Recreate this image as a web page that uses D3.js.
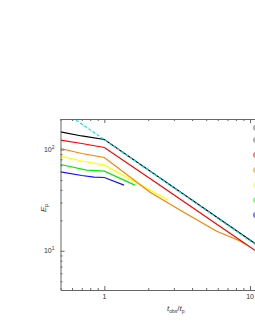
<!DOCTYPE html>
<html>
<head>
<meta charset="utf-8">
<script src="https://cdn.jsdelivr.net/npm/d3@7"></script>
<style>
body{margin:0;background:#fff;}
text{font-family:"Liberation Sans",Arial,sans-serif;fill:#333;}
</style>
</head>
<body>
<div id="chart"></div>
<script>
// values: t_obs/t_p and E_p
var blackT=[0.5,0.7,1,20],           blackE=[149,136,125.5,6.4];
var redT=[0.5,0.7,1,2.35,10,20],     redE=[123.5,114.6,104.6,45.3,10.9,5.5];
var orangeT=[0.5,0.7,1,2.06,3.48,5.91,8.54,9.3], orangeE=[102.3,91.3,83.4,37.9,24.2,15.6,12.5,11.6];
var yellowT=[0.5,0.7,1,2.06,2.75],   yellowE=[85.9,77,70,39.7,31.6];
var greenT=[0.5,0.757,1,1.62],       greenE=[71.1,62.5,61.1,44.5];
var blueT=[0.5,0.7,0.85,1,1.365],    blueE=[60.1,55.4,53.3,52.9,44.5];
var cyanT=[0.6,20],                  cyanE=[208,6.3];
var legendColors=["#666","#666","#ff0000","#ff8000","#ffff00","#00ff00","#0000ff"];
var xMajor=[1,10], yMajor=[10,100];

var series=[
  {t:blackT,e:blackE,c:"#000"},
  {t:redT,e:redE,c:"#ff0000"},
  {t:orangeT,e:orangeE,c:"#ff8000"},
  {t:yellowT,e:yellowE,c:"#ffff00"},
  {t:greenT,e:greenE,c:"#00ee00"},
  {t:blueT,e:blueE,c:"#1010ff"}
];

var W=255,H=330;
var x=d3.scaleLog().domain([0.5,20]).range([60.5,293.9]);
var y=d3.scaleLog().domain([4.1,200]).range([290,119]);

var svg=d3.select("#chart").append("svg").attr("width",W).attr("height",H);

svg.append("clipPath").attr("id","clip").append("rect")
  .attr("x",x.range()[0]).attr("y",y.range()[1])
  .attr("width",x.range()[1]-x.range()[0]).attr("height",y.range()[0]-y.range()[1]);

var line=d3.line().x(function(d){return x(d[0]);}).y(function(d){return y(d[1]);});
function pts(s){return s.t.map(function(t,i){return [t,s.e[i]];});}

var plot=svg.append("g").attr("clip-path","url(#clip)");
series.slice().reverse().forEach(function(s){
  plot.append("path").attr("d",line(pts(s))).attr("fill","none")
    .attr("stroke",s.c).attr("stroke-width",1.2);
});
plot.append("path").attr("d",line(pts({t:cyanT,e:cyanE}))).attr("fill","none")
  .attr("stroke","#00e5ee").attr("stroke-width",1.2).attr("stroke-dasharray","3,2");

// axes: ticks inward, longer on decades
var xt=x.ticks(), yt=y.ticks();
function isMaj(v,m){return m.some(function(k){return Math.abs(v-k)<1e-9;});}
var axisCol="#666";
function styleAxis(g,maj,sign,horiz){
  g.select(".domain").attr("stroke",axisCol);
  g.selectAll(".tick line").attr("stroke",axisCol)
    .attr(horiz?"y2":"x2",function(d){return sign*(isMaj(d,maj)?4:2);});
  g.selectAll(".tick text").remove();
}
var gx=svg.append("g").attr("transform","translate(0,"+y.range()[0]+")")
  .call(d3.axisBottom(x).tickValues(xt).tickSizeOuter(0));
styleAxis(gx,xMajor,-1,true);
var gxt=svg.append("g").attr("transform","translate(0,"+y.range()[1]+")")
  .call(d3.axisTop(x).tickValues(xt).tickSizeOuter(0));
styleAxis(gxt,xMajor,1,true);
var gy=svg.append("g").attr("transform","translate("+x.range()[0]+",0)")
  .call(d3.axisLeft(y).tickValues(yt).tickSizeOuter(0));
styleAxis(gy,yMajor,1,false);

// tick labels
xMajor.forEach(function(v){
  svg.append("text").attr("x",x(v)).attr("y",y.range()[0]+9)
    .attr("text-anchor","middle").style("font-size","7px").text(v);
});
yMajor.forEach(function(v){
  var t=svg.append("text").attr("x",x.range()[0]-6).attr("y",y(v)+2.5)
    .attr("text-anchor","end").style("font-size","7px");
  t.append("tspan").text("10");
  t.append("tspan").attr("dy",-3).style("font-size","5px").text(Math.round(Math.log10(v)));
});

// axis titles
var xl=svg.append("text").attr("x",167).attr("y",311).style("font-size","8px");
xl.append("tspan").style("font-style","italic").text("t");
xl.append("tspan").attr("dy",2).style("font-size","5px").text("obs");
xl.append("tspan").attr("dy",-2).text("/");
xl.append("tspan").style("font-style","italic").text("t");
xl.append("tspan").attr("dy",2).style("font-size","5px").text("p");

var yl=svg.append("text").attr("transform","translate(46,212) rotate(-90)").style("font-size","8px");
yl.append("tspan").style("font-style","italic").text("E");
yl.append("tspan").attr("dy",2).style("font-size","5px").text("p");

// legend markers (labels lie outside the picture)
svg.selectAll(".lg").data(legendColors).enter().append("circle")
  .attr("cx",255.8).attr("cy",function(d,i){return i===0?127.7:125+i*15;})
  .attr("r",3).attr("fill",function(d){return d;}).attr("fill-opacity",0.5);
</script>
</body>
</html>
